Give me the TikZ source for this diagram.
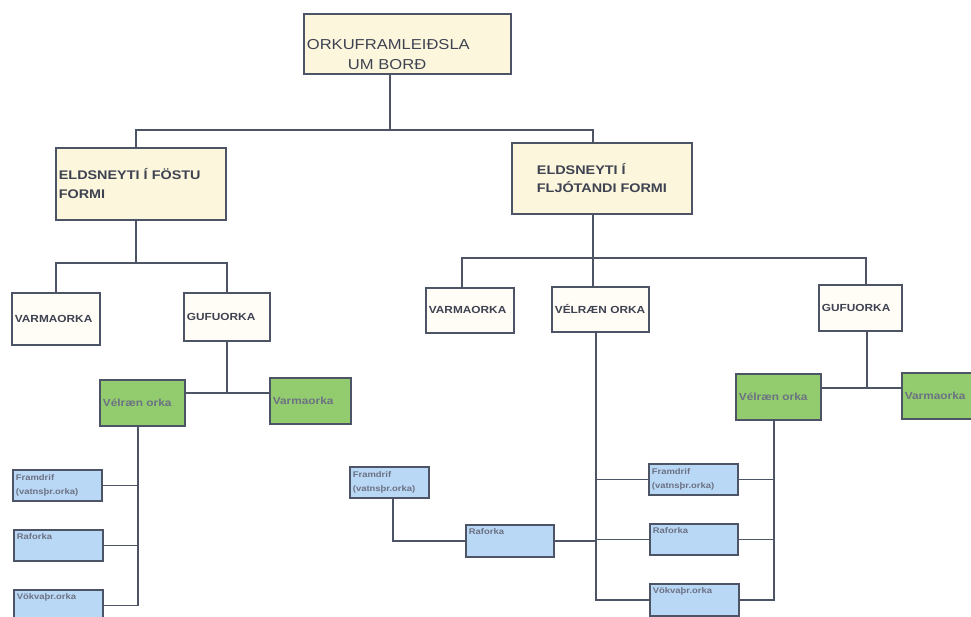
\documentclass[tikz,border=0pt]{standalone}
\usepackage{fontspec}
\newfontfamily\wide{Liberation Sans}[FakeStretch=1.15]
\definecolor{cream}{HTML}{FBF6DC}
\definecolor{paper}{HTML}{FFFDF6}
\definecolor{leaf}{HTML}{93CC6E}
\definecolor{sky}{HTML}{B9D8F6}
\definecolor{edge}{HTML}{4D5466}
\definecolor{ink}{HTML}{3E4251}
\definecolor{dim}{HTML}{6C7183}
\tikzset{
  box/.style={draw=edge, line width=1.8pt, rectangle, anchor=north west,
    inner sep=3pt, align=left},
  headbox/.style={box, fill=cream, text=ink},
  capbox/.style={box, fill=paper, text=ink,
    font=\wide\bfseries\fontsize{10.3}{13}\selectfont},
  greenbox/.style={box, fill=leaf, text=dim,
    font=\wide\bfseries\fontsize{10.3}{13}\selectfont},
  bluebox/.style={box, fill=sky, text=dim,
    font=\wide\bfseries\fontsize{8.2}{14}\selectfont},
  conn/.style={draw=edge, line width=1.8pt}
}
\begin{document}
\begin{tikzpicture}[x=1pt, y=-1pt]
\useasboundingbox (0,0) rectangle (971,616);
\clip (0,0) rectangle (971,616);
\fill[white] (0,0) rectangle (971,616);

% level 0 (the strut pushes the two lines towards the lower half)
\node[headbox, minimum width=207pt, minimum height=60pt, text width=201pt,
  font=\wide\fontsize{14.4}{20}\selectfont] (top) at (303,13)
  {\rule{0pt}{31pt}ORKUFRAMLEIÐSLA\\\hspace*{41pt}UM BORÐ};

% level 1
\node[headbox, minimum width=170pt, minimum height=72pt, text width=164pt,
  font=\wide\bfseries\fontsize{12.5}{19}\selectfont] (solid) at (55,147)
  {ELDSNEYTI Í FÖSTU\\FORMI};
\node[headbox, minimum width=180pt, minimum height=71pt,
  font=\wide\bfseries\fontsize{12.5}{18}\selectfont] (liquid) at (511,142)
  {ELDSNEYTI Í\\FLJÓTANDI FORMI};

% level 2
\node[capbox, minimum width=88pt, minimum height=52pt, text width=82pt] (varmL) at (11,292) {VARMAORKA};
\node[capbox, minimum width=86pt, minimum height=48pt, text width=80pt] (gufuL) at (183,292) {GUFUORKA};
\node[capbox, minimum width=88pt, minimum height=45pt, text width=82pt] (varmM) at (425,287) {VARMAORKA};
\node[capbox, minimum width=97pt, minimum height=45pt, text width=91pt] (velM) at (551,286) {VÉLRÆN ORKA};
\node[capbox, minimum width=83pt, minimum height=46pt, text width=77pt] (gufuR) at (818,284) {GUFUORKA};

% level 3
\node[greenbox, minimum width=85pt, minimum height=46pt, text width=79pt] (velL) at (99,379) {Vélræn orka};
\node[greenbox, minimum width=81pt, minimum height=46pt, text width=75pt] (varmL2) at (269,377) {Varmaorka};
\node[greenbox, minimum width=85pt, minimum height=46pt, text width=79pt] (velR) at (735,373) {Vélræn orka};
\node[greenbox, minimum width=84pt, minimum height=46pt, text width=78pt] (varmR2) at (901,372) {Varmaorka};

% level 4
\node[bluebox, minimum width=89pt, minimum height=31pt, text width=83pt] (framL) at (12,469) {Framdrif\\(vatnsþr.orka)};
\node[bluebox, minimum width=89pt, minimum height=31pt, text width=83pt] (rafL) at (13,529) {Raforka\\\strut};
\node[bluebox, minimum width=89pt, minimum height=31pt, text width=83pt] (vokL) at (13,589) {Vökvaþr.orka\\\strut};
\node[bluebox, minimum width=79pt, minimum height=31pt, text width=73pt] (framM) at (349,466) {Framdrif\\(vatnsþr.orka)};
\node[bluebox, minimum width=88pt, minimum height=32pt, text width=82pt] (rafM) at (465,524) {Raforka\\\strut};
\node[bluebox, minimum width=89pt, minimum height=31pt, text width=83pt] (framR) at (648,463) {Framdrif\\(vatnsþr.orka)};
\node[bluebox, minimum width=88pt, minimum height=31pt, text width=82pt] (rafR) at (649,523) {Raforka\\\strut};
\node[bluebox, minimum width=89pt, minimum height=32pt, text width=83pt] (vokR) at (649,583) {Vökvaþr.orka\\\strut};

% junction points of the tree
\coordinate (t0) at (390,130);
\coordinate (tl) at (136,130);
\coordinate (tr) at (593,130);
\coordinate (s0) at (136,263);
\coordinate (s1) at (227,393);
\coordinate (s2) at (138,604);
\coordinate (l0) at (593,258);
\coordinate (l1) at (462,258);
\coordinate (l2) at (866,258);
\coordinate (l3) at (867,388);
\coordinate (l4) at (596,540);
\coordinate (l5) at (393,541);
\coordinate (l6) at (774,540);

% top split
\draw[conn] (top.south -| t0) -- (t0);
\draw[conn] (solid.north -| tl) -- (tl) -- (tr) -- (liquid.north -| tr);

% solid fuel branch
\draw[conn] (solid.south -| s0) -- (s0);
\draw[conn] (varmL.north -| 56,0) |- (s0) -| (gufuL.north);
\draw[conn] (gufuL.south -| s1) -- (s1);
\draw[conn] (velL.east |- s1) -- (varmL2.west |- s1);
\draw[conn] (velL.south -| s2) -- (s2 |- vokL.east) -- (vokL.east);
\draw[conn] (framL.east) -- (framL.east -| s2);
\draw[conn] (rafL.east) -- (rafL.east -| s2);

% liquid fuel branch
\draw[conn] (liquid.south -| l0) -- (l0) -- (velM.north -| l0);
\draw[conn] (varmM.north -| l1) -- (l1) -- (l2) -- (gufuR.north -| l2);
\draw[conn] (gufuR.south -| l3) -- (l3);
\draw[conn] (velR.east |- l3) -- (varmR2.west |- l3);
\draw[conn] (velM.south -| l4) -- (l4 |- vokR.west) -- (vokR.west);
\draw[conn] (framR.west) -- (framR.west -| l4);
\draw[conn] (rafR.west) -- (rafR.west -| l4);
\draw[conn] (rafM.east) -- (rafM.east -| l4);
\draw[conn] (framM.south -| l5) |- (rafM.west);
\draw[conn] (velR.south -| l6) -- (l6 |- vokR.east) -- (vokR.east);
\draw[conn] (framR.east) -- (framR.east -| l6);
\draw[conn] (rafR.east) -- (rafR.east -| l6);
\end{tikzpicture}
\end{document}
